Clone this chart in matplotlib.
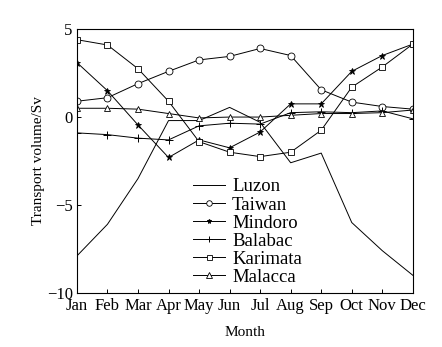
import numpy as np
import matplotlib.pyplot as plt

plt.rcParams['font.family'] = ['Liberation Serif', 'DejaVu Serif']

months = ['Jan', 'Feb', 'Mar', 'Apr', 'May', 'Jun',
          'Jul', 'Aug', 'Sep', 'Oct', 'Nov', 'Dec']

luzon = [-7.9, -6.1, -3.5, -0.2, -0.2, 0.55, -0.3, -2.6, -2.05, -6.0, -7.6, -9.0]
taiwan = [0.9, 1.1, 1.9, 2.6, 3.25, 3.45, 3.9, 3.5, 1.55, 0.85, 0.6, 0.45]
mindoro = [3.1, 1.5, -0.45, -2.3, -1.3, -1.75, -0.85, 0.75, 0.75, 2.6, 3.5, 4.15]
balabac = [-0.9, -1.0, -1.2, -1.3, -0.5, -0.35, -0.4, 0.25, 0.3, 0.25, 0.35, -0.1]
karimata = [4.4, 4.1, 2.75, 0.9, -1.4, -2.0, -2.25, -2.0, -0.75, 1.7, 2.85, 4.15]
malacca = [0.5, 0.5, 0.45, 0.2, -0.05, 0.0, 0.0, 0.1, 0.2, 0.2, 0.25, 0.4]

x = np.arange(len(months))

fig = plt.figure(figsize=(4.42, 3.47), dpi=100)
ax = fig.add_axes([0.174, 0.156, 0.76, 0.76])

lw = 0.7
ax.plot(x, luzon, color='black', lw=lw, label='Luzon')
ax.plot(x, taiwan, color='black', lw=lw, marker='o', ms=5, mfc='white',
        mew=0.6, label='Taiwan')
ax.plot(x, mindoro, color='black', lw=lw, marker='*', ms=4.5, mew=0.6,
        label='Mindoro')
ax.plot(x, balabac, color='black', lw=lw, marker='+', ms=6, mew=0.7,
        label='Balabac')
ax.plot(x, karimata, color='black', lw=lw, marker='s', ms=4.5, mfc='white',
        mew=0.6, label='Karimata')
ax.plot(x, malacca, color='black', lw=lw, marker='^', ms=5, mfc='white',
        mew=0.6, label='Malacca')

ax.set_xlim(0, 11)
ax.set_ylim(-10, 5)
ax.set_xticks(x)
ax.set_xticklabels(months)
ax.set_yticks([-10, -5, 0, 5])
ax.tick_params(direction='in', labelsize=12, length=3, width=0.7)
ax.tick_params(axis='x', pad=4)
ax.tick_params(axis='y', pad=3)
for s in ax.spines.values():
    s.set_linewidth(0.8)

ax.set_xlabel('Month', fontsize=11, labelpad=8)
ax.set_ylabel('Transport volume/Sv', fontsize=11, labelpad=1)

ax.legend(loc='lower left', bbox_to_anchor=(0.30, -0.03), frameon=False,
          fontsize=13.5, handlelength=1.7, labelspacing=0.05, markerscale=0.8,
          handletextpad=0.4, borderpad=0.3)

fig.savefig('out.png', dpi=100)
